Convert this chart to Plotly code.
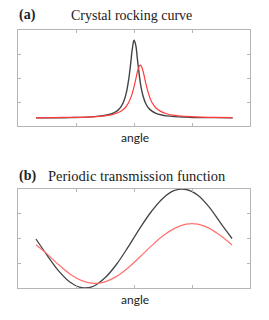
import plotly.graph_objects as go

W, H = 269, 320

# Panel (a): crystal rocking curve
angle_a = [0.31, 0.6, 0.9, 1.2, 1.4, 1.55, 1.65, 1.72, 1.78, 1.83, 1.87, 1.91, 1.94, 1.97,
           2.0, 2.03, 2.06, 2.09, 2.11, 2.13, 2.16, 2.2, 2.25, 2.31, 2.38, 2.46, 2.56, 2.7,
           2.9, 3.15, 3.4, 3.7]
black_a = [0.34, 0.34, 0.35, 0.37, 0.41, 0.47, 0.55, 0.65, 0.82, 1.07, 1.41, 1.96, 2.54, 3.19,
           3.57, 3.37, 2.76, 2.14, 1.79, 1.52, 1.22, 0.95, 0.75, 0.62, 0.53, 0.47, 0.42, 0.39,
           0.37, 0.35, 0.35, 0.34]
red_a = [0.34, 0.35, 0.36, 0.37, 0.40, 0.44, 0.49, 0.55, 0.63, 0.72, 0.83, 0.99, 1.15, 1.36,
         1.63, 1.94, 2.27, 2.49, 2.54, 2.48, 2.25, 1.81, 1.35, 0.98, 0.75, 0.61, 0.51, 0.44,
         0.40, 0.37, 0.36, 0.35]

# Panel (b): periodic transmission function
angle_b = [0.31, 0.5, 0.7, 0.9, 1.1, 1.3, 1.5, 1.7, 1.9, 2.1, 2.3, 2.5, 2.7, 2.9, 3.1, 3.3, 3.5, 3.69]
black_b = [1.98, 1.33, 0.69, 0.23, 0.01, 0.07, 0.41, 0.96, 1.66, 2.41, 3.09, 3.63, 3.94, 3.98,
           3.75, 3.26, 2.60, 2.0]
red_b = [1.75, 1.38, 0.94, 0.56, 0.30, 0.19, 0.25, 0.47, 0.82, 1.25, 1.70, 2.11, 2.41, 2.58,
         2.58, 2.41, 2.10, 1.74]

BLACK = "#444444"
RED = "#ff3b3b"
RED_B = "#ff7070"

fig = go.Figure()
fig.add_trace(go.Scatter(x=angle_a, y=black_a, mode="lines", line=dict(color=BLACK, width=1.4, shape="spline"),
                         xaxis="x", yaxis="y", showlegend=False))
fig.add_trace(go.Scatter(x=angle_a, y=red_a, mode="lines", line=dict(color=RED, width=1.2, shape="spline"),
                         xaxis="x", yaxis="y", showlegend=False))
fig.add_trace(go.Scatter(x=angle_b, y=black_b, mode="lines", line=dict(color=BLACK, width=1.3, shape="spline"),
                         xaxis="x2", yaxis="y2", showlegend=False))
fig.add_trace(go.Scatter(x=angle_b, y=red_b, mode="lines", line=dict(color=RED_B, width=1.2, shape="spline"),
                         xaxis="x2", yaxis="y2", showlegend=False))

def px_x(p):
    return p / W

def px_y(p):
    return 1 - p / H

ax_common = dict(showline=True, mirror="ticks", linecolor="#b5b5b5", linewidth=1,
                 ticks="inside", ticklen=3, tickcolor="#b5b5b5", showticklabels=False,
                 showgrid=False, zeroline=False, tickvals=[1, 2, 3], range=[0, 4], fixedrange=True)

fig.update_layout(
    width=W, height=H, margin=dict(l=0, r=0, t=0, b=0),
    paper_bgcolor="white", plot_bgcolor="white",
    xaxis=dict(domain=[px_x(18), px_x(250)], anchor="y", **ax_common),
    yaxis=dict(domain=[px_y(126), px_y(30)], anchor="x", **ax_common),
    xaxis2=dict(domain=[px_x(18), px_x(250)], anchor="y2", **ax_common),
    yaxis2=dict(domain=[px_y(288), px_y(189)], anchor="x2", **ax_common),
)

serif = "Liberation Serif, DejaVu Serif, serif"
sans = "Lato, Open Sans, sans-serif"
anns = [
    dict(text="<b>(a)</b>", x=px_x(17), y=px_y(15), xanchor="left", font=dict(family=serif, size=14, color="#222")),
    dict(text="Crystal rocking curve", x=px_x(131), y=px_y(15), xanchor="center", font=dict(family=serif, size=14, color="#222")),
    dict(text="angle", x=px_x(135), y=px_y(137), xanchor="center", font=dict(family=sans, size=12, color="#222")),
    dict(text="<b>(b)</b>", x=px_x(17), y=px_y(176), xanchor="left", font=dict(family=serif, size=14, color="#222")),
    dict(text="Periodic transmission function", x=px_x(137), y=px_y(176), xanchor="center", font=dict(family=serif, size=14.5, color="#222")),
    dict(text="angle", x=px_x(135), y=px_y(299), xanchor="center", font=dict(family=sans, size=12, color="#222")),
]
for a in anns:
    a.update(xref="paper", yref="paper", yanchor="middle", showarrow=False)
fig.update_layout(annotations=anns)

fig.write_html("out.html", config={"displayModeBar": False, "staticPlot": True},
               post_script="document.body.style.margin='0px';")
